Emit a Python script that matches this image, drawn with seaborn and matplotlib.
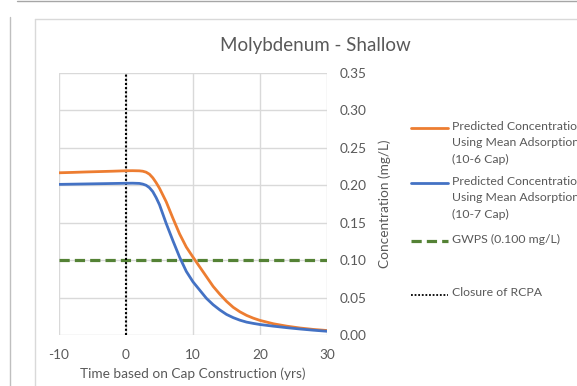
import matplotlib
matplotlib.use("Agg")
import matplotlib.pyplot as plt
from matplotlib.lines import Line2D
import pandas as pd
import seaborn as sns

# Time since cap construction (years)
years = [-10, -8, -6, -4, -2, 0, 1, 2, 2.5, 3, 3.5, 4, 4.5, 5, 6, 7, 8, 9, 10,
         11, 12, 13, 14, 15, 16, 17, 18, 19, 20, 22, 24, 26, 28, 30]
# Predicted molybdenum concentration (mg/L), 10-6 cap
conc_cap6 = [0.2167, 0.2172, 0.2178, 0.2183, 0.2188, 0.2194, 0.2195, 0.2193,
             0.2188, 0.2175, 0.2148, 0.2100, 0.2035, 0.1960, 0.1780, 0.1560,
             0.1350, 0.1175, 0.1040, 0.0910, 0.0780, 0.0650, 0.0545, 0.0450,
             0.0370, 0.0310, 0.0262, 0.0225, 0.0195, 0.0150, 0.0118, 0.0093,
             0.0074, 0.0060]
# Predicted molybdenum concentration (mg/L), 10-7 cap
conc_cap7 = [0.2012, 0.2015, 0.2018, 0.2021, 0.2024, 0.2027, 0.2028, 0.2025,
             0.2016, 0.2000, 0.1968, 0.1915, 0.1835, 0.1740, 0.1490, 0.1260,
             0.1040, 0.0850, 0.0710, 0.0600, 0.0490, 0.0405, 0.0335, 0.0275,
             0.0232, 0.0198, 0.0172, 0.0155, 0.0140, 0.0118, 0.0098, 0.0080,
             0.0064, 0.0050]
gwps_value = 0.100
closure_year = 0
x_ticks = [-10, 0, 10, 20, 30]
y_ticks = [0.00, 0.05, 0.10, 0.15, 0.20, 0.25, 0.30, 0.35]

label_cap6 = "Predicted Concentration\nUsing Mean Adsorption\n(10-6 Cap)"
label_cap7 = "Predicted Concentration\nUsing Mean Adsorption\n(10-7 Cap)"
label_gwps = "GWPS (0.100 mg/L)"
label_closure = "Closure of RCPA"

ORANGE = "#ED7D31"
BLUE = "#4472C4"
GREEN = "#548235"
GRID = "#D9D9D9"
TEXT = "#595959"

sns.set_theme(style="white")
plt.rcParams["font.family"] = ["Lato", "DejaVu Sans"]
plt.rcParams["axes.unicode_minus"] = False

df = pd.DataFrame({"year": years, "cap6": conc_cap6, "cap7": conc_cap7})

W, H = 577, 386
fig = plt.figure(figsize=(W / 100, H / 100), dpi=100)
ax = fig.add_axes([59 / W, 1 - 335 / H, (327 - 59) / W, (335 - 73) / H])

# gridlines
for xv in x_ticks:
    ax.axvline(xv, color=GRID, lw=1.0, zorder=0)
for yv in y_ticks:
    ax.axhline(yv, color=GRID, lw=1.0, zorder=0)

ax.plot([x_ticks[0], x_ticks[-1]], [gwps_value, gwps_value], color=GREEN,
        lw=2.3, dashes=(3.2, 1.6), zorder=2)
ax.plot([closure_year, closure_year], [y_ticks[0], y_ticks[-1]], color="black",
        lw=1.5, dashes=(1, 1), zorder=3)
sns.lineplot(data=df, x="year", y="cap6", ax=ax, color=ORANGE, lw=2.0,
             zorder=4, sort=True)
sns.lineplot(data=df, x="year", y="cap7", ax=ax, color=BLUE, lw=2.0,
             zorder=5, sort=True)

ax.set_xlim(-10, 30)
ax.set_ylim(0, 0.35)
ax.set_xticks(x_ticks)
ax.set_yticks(y_ticks)
ax.set_yticklabels([f"{v:.2f}" for v in y_ticks])
ax.yaxis.tick_right()
ax.yaxis.set_label_position("right")
ax.tick_params(axis="both", length=0, labelsize=9.8, colors=TEXT)
ax.tick_params(axis="y", pad=9)
ax.tick_params(axis="x", pad=10)
for s in ax.spines.values():
    s.set_visible(False)
ax.set_facecolor("none")
ax.set_xlabel("Time based on Cap Construction (yrs)", fontsize=9.8,
              color=TEXT, labelpad=5)
ax.set_ylabel("Concentration (mg/L)", fontsize=9.8, color=TEXT, labelpad=8.5)
fig.text(315 / W, 1 - 45 / H, "Molybdenum - Shallow", fontsize=13.5,
         color=TEXT, ha="center", va="center")

# legend drawn beside the plot
def fx(px):
    return px / W

def fy(py):
    return 1 - py / H

entries = [
    (128, label_cap6, dict(color=ORANGE, lw=2.0)),
    (183, label_cap7, dict(color=BLUE, lw=2.0)),
    (241, label_gwps, dict(color=GREEN, lw=2.3, dashes=(3.2, 1.6))),
    (295, label_closure, dict(color="black", lw=1.3, dashes=(1, 1))),
]
for py, text, style in entries:
    fig.add_artist(Line2D([fx(411), fx(448)], [fy(py), fy(py)],
                          transform=fig.transFigure, **style))
    fig.text(fx(452), fy(py - 7.5), text, fontsize=8.8, color=TEXT,
             ha="left", va="top", linespacing=1.62)

# chart frame lines
fig.add_artist(Line2D([fx(34.5), fx(34.5)], [fy(18.5), 0], color="#D9D9D9",
                      lw=1.0, transform=fig.transFigure))
fig.add_artist(Line2D([fx(34.5), 1], [fy(18.5), fy(18.5)], color="#D9D9D9",
                      lw=1.0, transform=fig.transFigure))
fig.add_artist(Line2D([fx(9.5), fx(9.5)], [fy(17), 0], color="#BFBFBF",
                      lw=1.0, transform=fig.transFigure))
fig.add_artist(Line2D([fx(17), 1], [fy(0.5), fy(0.5)], color="#A6A6A6",
                      lw=1.0, transform=fig.transFigure))

fig.savefig("out.png", dpi=100)
